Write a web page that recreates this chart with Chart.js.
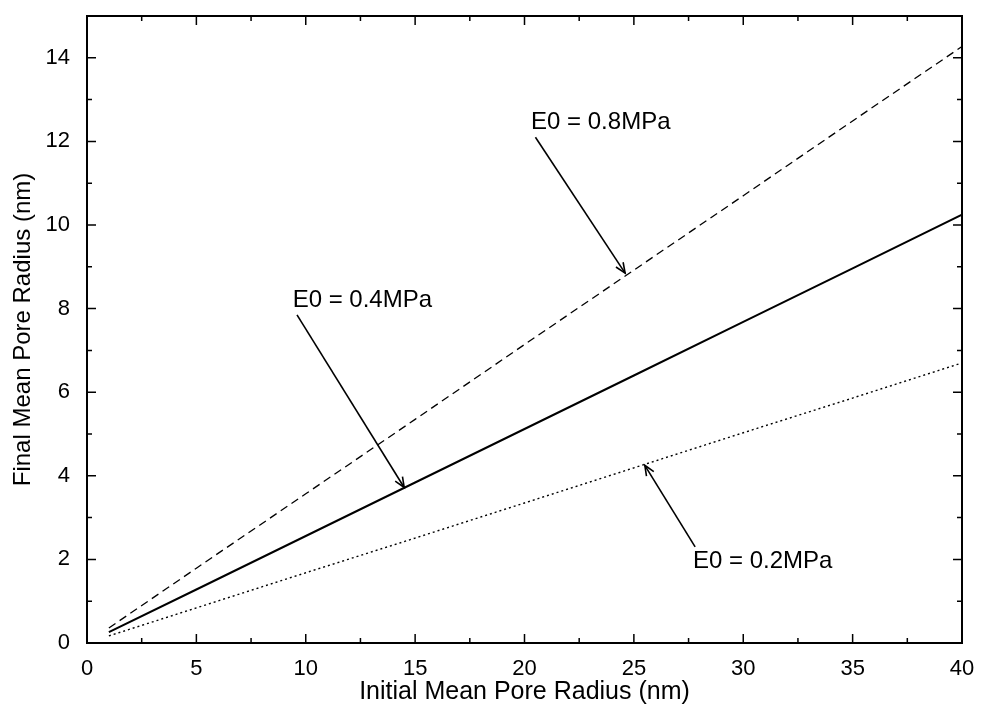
<!DOCTYPE html>
<html>
<head>
<meta charset="utf-8">
<script src="https://cdn.jsdelivr.net/npm/chart.js@4"></script>
<style>
  html, body { margin: 0; padding: 0; background: #fff; }
  #wrap { width: 983px; height: 709px; }
</style>
</head>
<body>
<div id="wrap"><canvas id="myChart" width="983" height="709"></canvas></div>
<script>
// data
const radiusIn = [1, 5, 10, 15, 20, 25, 30, 35, 40]; // initial mean pore radius (nm)
const e08 = [0.36, 1.79, 3.57, 5.35, 7.14, 8.92, 10.70, 12.49, 14.27]; // E0 = 0.8MPa
const e04 = [0.26, 1.28, 2.56, 3.84, 5.12, 6.40, 7.68, 8.96, 10.25]; // E0 = 0.4MPa
const e02 = [0.17, 0.84, 1.68, 2.51, 3.35, 4.19, 5.03, 5.86, 6.70]; // E0 = 0.2MPa

const xTicks = [0, 5, 10, 15, 20, 25, 30, 35, 40];
const xMinor = [2.5, 7.5, 12.5, 17.5, 22.5, 27.5, 32.5, 37.5];
const yTicks = [0, 2, 4, 6, 8, 10, 12, 14];
const yMinor = [1, 3, 5, 7, 9, 11, 13];

// labels with arrows, in data units: text anchor, arrow tail, arrow head
const notes = [
  { text: "E0 = 0.8MPa", tx: 20.3, ty: 12.45, x1: 20.5, y1: 12.1, x2: 24.6, y2: 8.85 },
  { text: "E0 = 0.4MPa", tx: 9.4, ty: 8.2, x1: 9.6, y1: 7.85, x2: 14.5, y2: 3.72 },
  { text: "E0 = 0.2MPa", tx: 27.7, ty: 1.95, x1: 27.8, y1: 2.3, x2: 25.5, y2: 4.25 },
];

const FONT = "'Liberation Sans', Arial, Helvetica, sans-serif";

function pts(ys) {
  return radiusIn.map((x, i) => ({ x: x, y: ys[i] }));
}

// frame, inward ticks and annotations
const framePlugin = {
  id: "frame",
  afterDatasetsDraw(chart) {
    const c = chart.ctx;
    const a = chart.chartArea;
    const xs = chart.scales.x;
    const ys = chart.scales.y;
    c.save();
    c.strokeStyle = "#000";
    c.lineWidth = 1.5;
    function tickX(v, len) {
      const px = xs.getPixelForValue(v);
      c.beginPath();
      c.moveTo(px, a.bottom); c.lineTo(px, a.bottom - len);
      c.moveTo(px, a.top); c.lineTo(px, a.top + len);
      c.stroke();
    }
    function tickY(v, len) {
      const py = ys.getPixelForValue(v);
      c.beginPath();
      c.moveTo(a.left, py); c.lineTo(a.left + len, py);
      c.moveTo(a.right, py); c.lineTo(a.right - len, py);
      c.stroke();
    }
    xTicks.forEach(v => tickX(v, 9));
    xMinor.forEach(v => tickX(v, 5));
    yTicks.forEach(v => tickY(v, 9));
    yMinor.forEach(v => tickY(v, 5));
    c.lineWidth = 2;
    c.strokeRect(a.left, a.top, a.right - a.left, a.bottom - a.top);

    c.font = "24px " + FONT;
    c.fillStyle = "#000";
    c.textBaseline = "middle";
    c.textAlign = "left";
    c.lineWidth = 1.6;
    notes.forEach(n => {
      c.fillText(n.text, xs.getPixelForValue(n.tx), ys.getPixelForValue(n.ty));
      const x1 = xs.getPixelForValue(n.x1), y1 = ys.getPixelForValue(n.y1);
      const x2 = xs.getPixelForValue(n.x2), y2 = ys.getPixelForValue(n.y2);
      c.beginPath();
      c.moveTo(x1, y1); c.lineTo(x2, y2);
      c.stroke();
      const ang = Math.atan2(y2 - y1, x2 - x1);
      const h = 11;
      c.beginPath();
      c.moveTo(x2 - h * Math.cos(ang - 0.4), y2 - h * Math.sin(ang - 0.4));
      c.lineTo(x2, y2);
      c.lineTo(x2 - h * Math.cos(ang + 0.4), y2 - h * Math.sin(ang + 0.4));
      c.stroke();
    });
    c.restore();
  },
};

const ctx = document.getElementById("myChart").getContext("2d");
const myChart = new Chart(ctx, {
  type: "line",
  data: {
    datasets: [
      { label: "E0 = 0.8MPa", data: pts(e08), borderColor: "#000", borderWidth: 1.3, borderDash: [8, 5] },
      { label: "E0 = 0.4MPa", data: pts(e04), borderColor: "#000", borderWidth: 2 },
      { label: "E0 = 0.2MPa", data: pts(e02), borderColor: "#000", borderWidth: 1.4, borderDash: [2, 3] },
    ],
  },
  options: {
    responsive: false,
    animation: false,
    layout: { padding: { top: 16, right: 21, left: 0, bottom: 0 } },
    elements: { point: { radius: 0 }, line: { tension: 0 } },
    plugins: { legend: { display: false }, tooltip: { enabled: false } },
    scales: {
      x: {
        type: "linear",
        min: 0,
        max: 40,
        afterBuildTicks: s => { s.ticks = xTicks.map(v => ({ value: v })); },
        afterFit: s => { s.height = 66; s.paddingLeft = 0; s.paddingRight = 0; },
        grid: { display: false, drawTicks: false },
        border: { display: false },
        ticks: { color: "#000", font: { family: FONT, size: 22 }, padding: 13, maxRotation: 0 },
        title: {
          display: true,
          text: "Initial Mean Pore Radius (nm)",
          color: "#000",
          font: { family: FONT, size: 25 },
          padding: { top: 0, bottom: 2 },
        },
      },
      y: {
        type: "linear",
        min: 0,
        max: 15,
        afterBuildTicks: s => { s.ticks = yTicks.map(v => ({ value: v })); },
        afterFit: s => { s.width = 87; s.paddingTop = 0; s.paddingBottom = 0; },
        grid: { display: false, drawTicks: false },
        border: { display: false },
        ticks: { color: "#000", font: { family: FONT, size: 22 }, padding: 17 },
        title: {
          display: true,
          text: "Final Mean Pore Radius (nm)",
          color: "#000",
          font: { family: FONT, size: 24 },
          padding: { top: 9, bottom: 0 },
        },
      },
    },
  },
  plugins: [framePlugin],
});
</script>
</body>
</html>
